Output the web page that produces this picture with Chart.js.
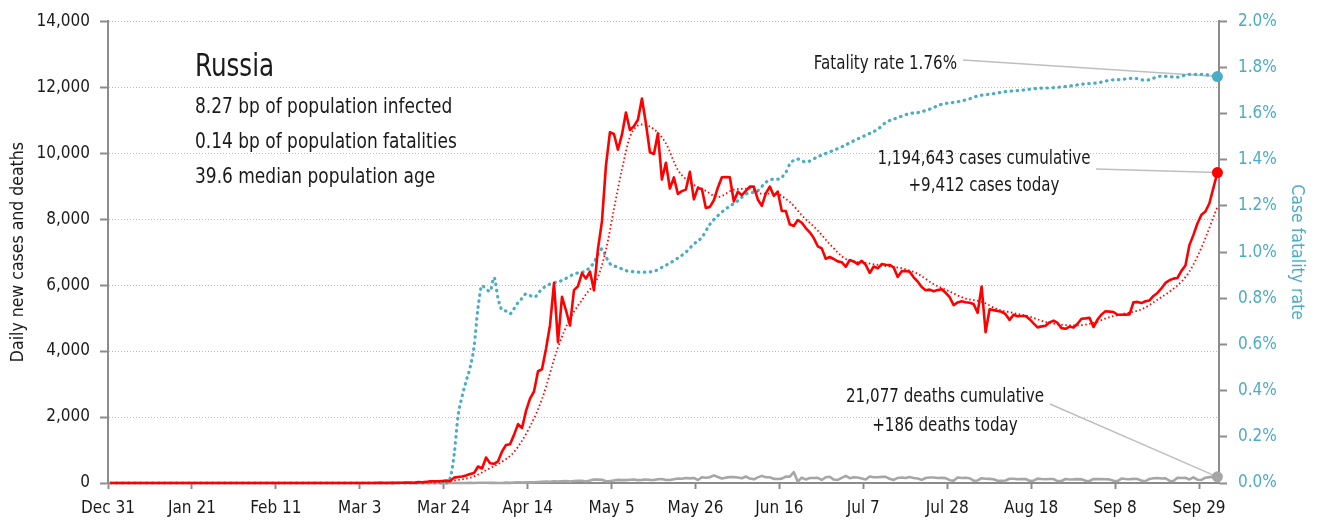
<!DOCTYPE html>
<html>
<head>
<meta charset="utf-8">
<script src="https://cdn.jsdelivr.net/npm/chart.js@4.4.1/dist/chart.umd.min.js"></script>
<style>
  html, body { margin: 0; padding: 0; background: #fff; }
</style>
</head>
<body>
<canvas id="myChart" width="1320" height="522"></canvas>
<script>
// x axis = days since Dec 31, one tick every 3 weeks
var tickDays = [0, 21, 42, 63, 84, 105, 126, 147, 168, 189, 210, 231, 252, 273];
var tickLabels = ['Dec 31', 'Jan 21', 'Feb 11', 'Mar 3', 'Mar 24', 'Apr 14', 'May 5', 'May 26', 'Jun 16', 'Jul 7', 'Jul 28', 'Aug 18', 'Sep 8', 'Sep 29'];
var pointOffset = 0.6; // points sit a bit right of the date tick

// daily new cases, one value per day from Dec 31
var cases = [
  0, 0, 0, 0, 0, 0, 0, 0, 0, 0,
  0, 0, 0, 0, 0, 0, 0, 0, 0, 0,
  0, 0, 0, 0, 0, 0, 0, 0, 0, 0,
  0, 0, 2, 0, 0, 0, 0, 0, 0, 0,
  0, 0, 0, 0, 0, 0, 0, 0, 0, 0,
  0, 0, 0, 0, 0, 0, 0, 0, 0, 0,
  0, 0, 0, 1, 0, 0, 1, 6, 4, 0,
  3, 3, 8, 6, 11, 14, 4, 27, 24, 33,
  52, 54, 53, 61, 71, 57, 163, 182, 196, 228,
  270, 302, 501, 440, 771, 601, 582, 658, 954, 1154,
  1175, 1459, 1786, 1667, 2186, 2558, 2774, 3388, 3448, 4070,
  4785, 6060, 4268, 5642, 5236, 4774, 5849, 5966, 6361, 6198,
  6411, 5841, 7099, 7933, 9623, 10633, 10581, 10102, 10559, 11231,
  10699, 10817, 11012, 11656, 10899, 10028, 9974, 10598, 9200, 9709,
  8926, 9263, 8764, 8849, 8894, 9434, 8599, 8946, 8915, 8338,
  8371, 8572, 8952, 9268, 9275, 9270, 8536, 8831, 8726, 8855,
  8984, 8985, 8595, 8404, 8779, 8987, 8706, 8835, 8246, 8248,
  7843, 7790, 7972, 7889, 7728, 7600, 7425, 7176, 7113, 6800,
  6852, 6791, 6719, 6693, 6556, 6760, 6718, 6632, 6736, 6611,
  6368, 6562, 6509, 6635, 6615, 6611, 6537, 6248, 6422, 6428,
  6406, 6234, 6109, 5940, 5842, 5862, 5811, 5848, 5871, 5765,
  5635, 5395, 5475, 5509, 5482, 5462, 5427, 5159, 5957, 4575,
  5267, 5241, 5212, 5189, 5118, 4945, 5102, 5057, 5065, 5061,
  4969, 4839, 4718, 4748, 4767, 4870, 4921, 4852, 4696, 4676,
  4744, 4711, 4829, 4980, 4990, 5010, 4729, 4952, 5110, 5205,
  5195, 5185, 5099, 5100, 5105, 5110, 5480, 5490, 5455, 5509,
  5535, 5670, 5762, 5905, 6065, 6148, 6196, 6215, 6431, 6595,
  7212, 7523, 7867, 8135, 8232, 8481, 8945, 9412
];

// daily deaths, same days
var deaths = [
  0, 0, 0, 0, 0, 0, 0, 0, 0, 0,
  0, 0, 0, 0, 0, 0, 0, 0, 0, 0,
  0, 0, 0, 0, 0, 0, 0, 0, 0, 0,
  0, 0, 0, 0, 0, 0, 0, 0, 0, 0,
  0, 0, 0, 0, 0, 0, 0, 0, 0, 0,
  0, 0, 0, 0, 0, 0, 0, 0, 0, 0,
  0, 0, 0, 0, 0, 0, 0, 0, 0, 0,
  0, 0, 0, 0, 0, 0, 0, 0, 0, 0,
  1, 0, 0, 0, 0, 0, 0, 2, 0, 1,
  4, 1, 8, 7, 6, 4, 9, 2, 2, 11,
  5, 13, 18, 12, 24, 18, 22, 28, 34, 41,
  40, 48, 44, 51, 57, 42, 60, 66, 66, 47,
  73, 105, 101, 96, 53, 58, 76, 95, 86, 88,
  98, 104, 88, 94, 107, 96, 93, 113, 119, 94,
  91, 115, 135, 127, 150, 139, 153, 92, 174, 161,
  174, 232, 181, 138, 162, 182, 178, 169, 144, 197,
  134, 112, 171, 216, 174, 173, 124, 119, 133, 193,
  194, 330, 40, 161, 109, 153, 153, 154, 92, 176,
  188, 104, 93, 154, 216, 147, 176, 168, 135, 104,
  198, 173, 174, 186, 188, 130, 94, 154, 167, 149,
  180, 154, 135, 95, 150, 165, 167, 152, 155, 147,
  85, 70, 169, 150, 161, 144, 70, 77, 144, 129,
  124, 114, 70, 70, 77, 130, 129, 114, 117, 121,
  68, 70, 132, 121, 114, 121, 119, 58, 61, 122,
  108, 110, 117, 111, 66, 60, 123, 117, 119, 114,
  110, 67, 60, 135, 122, 115, 126, 119, 72, 55,
  124, 144, 150, 137, 144, 70, 58, 160, 150, 160,
  108, 169, 99, 92, 160, 177, 186, 186
];

// 7 day trend of new cases, read at these days
var trendDays = [0, 63, 70, 77, 84, 88, 91, 94, 98, 101, 105, 108, 112, 115, 119, 122, 124, 126, 128, 130, 133, 136, 139, 142, 145, 149, 152, 156, 160, 163, 166, 170, 173, 177, 180, 184, 189, 194, 198, 202, 206, 210, 214, 218, 222, 226, 230, 234, 238, 242, 246, 250, 254, 258, 262, 265, 268, 270, 272, 274, 276, 277];
var trendCases = [0, 0, 2, 10, 50, 112, 200, 387, 644, 940, 1712, 2544, 4113, 4976, 5718, 6246, 7067, 8303, 9504, 10490, 10868, 10726, 10295, 9491, 9120, 8854, 8670, 8891, 8924, 8769, 8777, 8521, 8118, 7654, 7242, 6789, 6672, 6577, 6511, 6341, 6029, 5805, 5590, 5496, 5263, 5153, 5045, 4881, 4796, 4776, 4856, 5027, 5143, 5263, 5557, 5799, 6103, 6409, 6863, 7428, 8056, 8371];

// case fatality rate in %, read at these days
var cfrDays = [0, 84, 85, 86, 87, 88, 89, 90, 91, 92, 93, 94, 95, 96, 97, 98, 99, 100, 101, 102, 103, 104, 105, 106, 108, 110, 113, 116, 119, 121, 122, 123, 124, 125, 127, 129, 131, 133, 136, 138, 141, 144, 146, 148, 150, 152, 154, 157, 159, 162, 164, 166, 167, 169, 170, 172, 174, 177, 180, 183, 186, 189, 192, 194, 197, 200, 202, 205, 208, 212, 215, 217, 221, 224, 228, 232, 236, 240, 244, 247, 250, 253, 256, 259, 263, 267, 270, 273, 277];
var cfrRate = [0, 0, 0.02, 0.12, 0.29, 0.375, 0.44, 0.50, 0.59, 0.76, 0.855, 0.84, 0.83, 0.89, 0.80, 0.75, 0.745, 0.733, 0.755, 0.781, 0.80, 0.819, 0.812, 0.805, 0.841, 0.862, 0.877, 0.905, 0.92, 0.955, 0.99, 1.014, 0.98, 0.95, 0.935, 0.92, 0.915, 0.913, 0.917, 0.934, 0.963, 1.0, 1.035, 1.064, 1.12, 1.158, 1.187, 1.222, 1.251, 1.266, 1.302, 1.316, 1.316, 1.345, 1.381, 1.403, 1.39, 1.413, 1.434, 1.456, 1.482, 1.506, 1.532, 1.561, 1.582, 1.600, 1.604, 1.619, 1.640, 1.651, 1.664, 1.676, 1.686, 1.695, 1.701, 1.709, 1.712, 1.719, 1.729, 1.733, 1.744, 1.748, 1.753, 1.744, 1.762, 1.758, 1.770, 1.770, 1.76];
var cfrTicks = [0, 0.2, 0.4, 0.6, 0.8, 1.0, 1.2, 1.4, 1.6, 1.8, 2.0];

var country = 'Russia';
var facts = ['8.27 bp of population infected', '0.14 bp of population fatalities', '39.6 median population age'];
var rateNote = 'Fatality rate 1.76%';
var caseNote = ['1,194,643 cases cumulative', '+9,412 cases today'];
var deathNote = ['21,077 deaths cumulative', '+186 deaths today'];

var FONT = '"Liberation Sans Narrow", "DejaVu Sans Condensed", sans-serif';
var RED = '#ff0000', TEAL = '#4bacc6', GREY = '#a6a6a6', AXIS = '#8c8c8c', INK = '#1a1a1a';

function daily(values) {
  return values.map(function (v, i) { return { x: i + pointOffset, y: v }; });
}
function sampled(days, values) {
  return values.map(function (v, i) { return { x: days[i] + pointOffset, y: v }; });
}
function endDot(c) {
  return c.dataIndex === c.dataset.data.length - 1 ? 5.5 : 0;
}

// narrow text: squeeze the font sideways so it fits like the original condensed face
function label(ctx, text, x, y, size, align, squeeze) {
  ctx.save();
  ctx.translate(x, y);
  ctx.scale(squeeze, 1);
  ctx.font = size + 'px ' + FONT;
  ctx.textAlign = align;
  ctx.textBaseline = 'middle';
  ctx.fillText(text, 0, 0);
  ctx.restore();
}

// leader lines under the marks, labels on top
var notes = {
  id: 'notes',
  beforeDatasetsDraw: function (chart) {
    var ctx = chart.ctx, s = chart.scales;
    var endX = s.x.getPixelForValue(cases.length - 1 + pointOffset);
    var leaders = [
      [963, 60, s.y1.getPixelForValue(cfrRate[cfrRate.length - 1])],
      [1096, 169, s.y.getPixelForValue(cases[cases.length - 1])],
      [1050, 404, s.y.getPixelForValue(deaths[deaths.length - 1])]
    ];
    ctx.save();
    ctx.strokeStyle = '#bfbfbf';
    ctx.lineWidth = 1.5;
    leaders.forEach(function (l) {
      ctx.beginPath();
      ctx.moveTo(l[0], l[1]);
      ctx.lineTo(endX, l[2]);
      ctx.stroke();
    });
    ctx.restore();
  },
  afterDraw: function (chart) {
    var ctx = chart.ctx;
    ctx.save();
    ctx.fillStyle = INK;
    label(ctx, country, 195, 68, 31.5, 'left', 0.87);
    facts.forEach(function (t, i) { label(ctx, t, 195, 107.5 + i * 35, 21.5, 'left', 0.88); });

    label(ctx, rateNote, 957, 63.5, 20, 'right', 0.84);
    label(ctx, caseNote[0], 984, 159, 20, 'center', 0.84);
    label(ctx, caseNote[1], 984, 185.5, 20, 'center', 0.84);
    label(ctx, deathNote[0], 945, 397, 20, 'center', 0.84);
    label(ctx, deathNote[1], 945, 425.5, 20, 'center', 0.84);
    ctx.restore();
  }
};

Chart.defaults.font.family = FONT;

var ctx = document.getElementById('myChart');
var myChart = new Chart(ctx, {
  type: 'line',
  data: {
    datasets: [{
      label: 'New cases',
      data: daily(cases),
      yAxisID: 'y',
      borderColor: RED,
      borderWidth: 2.6,
      borderJoinStyle: 'round',
      pointRadius: endDot,
      pointBackgroundColor: RED,
      pointBorderWidth: 0
    }, {
      label: 'Trend',
      data: sampled(trendDays, trendCases),
      yAxisID: 'y',
      borderColor: RED,
      borderWidth: 1.8,
      borderDash: [1.5, 2.5],
      cubicInterpolationMode: 'monotone',
      pointRadius: 0
    }, {
      label: 'Case fatality rate',
      data: sampled(cfrDays, cfrRate),
      yAxisID: 'y1',
      borderColor: TEAL,
      borderWidth: 3.2,
      borderDash: [0.5, 5.5],
      borderCapStyle: 'round',
      cubicInterpolationMode: 'monotone',
      pointRadius: endDot,
      pointBackgroundColor: TEAL,
      pointBorderWidth: 0
    }, {
      label: 'Deaths',
      data: daily(deaths),
      yAxisID: 'y',
      borderColor: GREY,
      borderWidth: 2.6,
      borderJoinStyle: 'round',
      pointRadius: endDot,
      pointBackgroundColor: GREY,
      pointBorderWidth: 0
    }]
  },
  options: {
    responsive: false,
    animation: false,
    events: [],
    devicePixelRatio: 1,
    clip: false,
    layout: { padding: { top: 20, left: 0, right: 0, bottom: 0 } },
    plugins: { legend: { display: false }, tooltip: { enabled: false } },
    scales: {
      x: {
        type: 'linear',
        min: 0,
        max: 278,
        afterBuildTicks: function (s) { s.ticks = tickDays.map(function (d) { return { value: d }; }); },
        afterFit: function (s) { s.height = 39; },
        ticks: {
          autoSkip: false, maxRotation: 0, color: INK, font: { size: 17 }, padding: 9,
          callback: function (v, i) { return tickLabels[i]; }
        },
        grid: { drawOnChartArea: false, tickLength: 6, tickWidth: 2, tickColor: AXIS },
        border: { color: AXIS, width: 2 }
      },
      y: {
        position: 'left',
        min: 0,
        max: 14000,
        afterFit: function (s) { s.width = 108; },
        ticks: {
          stepSize: 2000, color: INK, font: { size: 17 }, padding: 10,
          callback: function (v) { return v.toLocaleString('en-US'); }
        },
        grid: {
          color: function (c) { return c.tick && c.tick.value === 0 ? 'rgba(0,0,0,0)' : '#bdbdbd'; },
          lineWidth: 1, tickLength: 8, tickWidth: 2, tickColor: AXIS
        },
        border: { color: AXIS, width: 2, dash: [1, 2] },
        title: { display: true, text: 'Daily new cases and deaths', color: INK, font: { size: 17.5 }, padding: { top: 7.5, bottom: 0 } }
      },
      y1: {
        position: 'right',
        min: 0,
        max: 2,
        afterBuildTicks: function (s) { s.ticks = cfrTicks.map(function (v) { return { value: v }; }); },
        afterFit: function (s) { s.width = 101; },
        ticks: {
          color: TEAL, font: { size: 17 }, padding: 11,
          callback: function (v) { return v.toFixed(1) + '%'; }
        },
        grid: { drawOnChartArea: false, tickLength: 8, tickWidth: 2, tickColor: AXIS },
        border: { color: AXIS, width: 2 },
        title: { display: true, text: 'Case fatality rate', color: TEAL, font: { size: 17.5 }, padding: { top: 12.8, bottom: 0 } }
      }
    }
  },
  plugins: [notes]
});
</script>
</body>
</html>
